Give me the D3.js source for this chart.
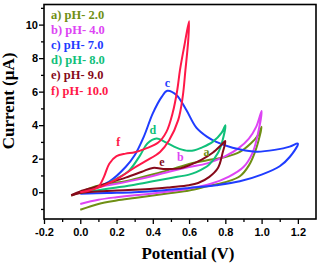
<!DOCTYPE html>
<meta charset="utf-8">
<style>
body { margin: 0; background: #fff; }
.axis path { display: none; }
.axis line { stroke: #000; stroke-width: 1.3; }
.axis text { font: bold 11px "Liberation Sans", Arial, sans-serif; fill: #000; }
.title { font: bold 17px "Liberation Serif", "Times New Roman", serif; fill: #000; }
.legend text { font: bold 12.5px "Liberation Serif", "Times New Roman", serif; }
.tag { font: bold 12px "Liberation Serif", "Times New Roman", serif; }
.cv { fill: none; stroke-width: 2; stroke-linejoin: round; }
</style>
<svg width="320" height="264"></svg>
<script src="https://d3js.org/d3.v7.min.js"></script>
<script>

// cyclic voltammograms, [potential V, current uA], forward scan then return
var curveA = [[-0.05,-0.2],[0.0,0.0],[0.07,0.3],[0.15,0.5],[0.25,0.66],[0.35,0.92],[0.45,1.2],[0.55,1.52],[0.62,1.74],[0.7,1.9],[0.8,2.1],[0.88,2.4],[0.94,2.9],[0.98,3.4],[1.0,3.9],
  [0.97,2.6],[0.93,1.6],[0.88,0.95],[0.8,0.6],[0.7,0.35],[0.6,0.1],[0.5,-0.05],[0.4,-0.2],[0.3,-0.35],[0.2,-0.5],[0.1,-0.7],[0.0,-1.05]];
var curveB = [[0.0,0.0],[0.1,0.3],[0.2,0.5],[0.3,0.72],[0.4,0.97],[0.5,1.25],[0.6,1.5],[0.7,1.72],[0.8,2.15],[0.87,2.6],[0.93,3.2],[0.97,3.9],[1.0,4.85],
  [0.98,3.5],[0.95,2.35],[0.9,1.5],[0.82,0.93],[0.72,0.5],[0.6,0.22],[0.5,0.05],[0.4,-0.08],[0.3,-0.18],[0.2,-0.3],[0.1,-0.45],[0.0,-0.7]];
var curveC = [[0.0,0.0],[0.08,0.25],[0.16,0.63],[0.25,1.5],[0.3,2.2],[0.35,3.3],[0.4,4.7],[0.45,5.7],[0.48,6.05],[0.53,5.8],[0.585,4.9],[0.64,3.85],[0.7,3.3],[0.75,3.0],[0.84,2.65],[0.97,2.42],[1.08,2.54],[1.155,2.72],[1.2,2.9],
  [1.155,2.1],[1.1,1.55],[1.0,1.05],[0.88,0.65],[0.75,0.42],[0.6,0.25],[0.45,0.1],[0.3,0.0],[0.15,-0.05],[0.0,-0.1]];
var curveD = [[0.0,0.0],[0.1,0.3],[0.2,0.8],[0.27,1.3],[0.33,2.2],[0.37,2.9],[0.42,3.2],[0.475,2.96],[0.53,2.66],[0.585,2.48],[0.63,2.5],[0.67,2.66],[0.73,3.0],[0.78,3.55],[0.8,4.0],
  [0.785,3.1],[0.76,2.35],[0.71,1.64],[0.64,1.2],[0.6,1.05],[0.5,0.85],[0.4,0.65],[0.3,0.45],[0.2,0.28],[0.1,0.12],[0.0,-0.05]];
var curveE = [[-0.05,-0.18],[0.0,0.05],[0.08,0.3],[0.16,0.57],[0.25,0.87],[0.34,1.22],[0.4,1.45],[0.47,1.38],[0.55,1.42],[0.6,1.6],[0.67,1.94],[0.73,2.35],[0.78,2.84],[0.8,3.05],
  [0.785,2.35],[0.76,1.46],[0.71,0.9],[0.65,0.55],[0.6,0.42],[0.5,0.3],[0.4,0.2],[0.2,0.1],[0.0,-0.05],[-0.05,-0.2]];
var curveF = [[0.0,0.0],[0.05,0.1],[0.1,0.33],[0.13,0.9],[0.16,1.7],[0.2,2.15],[0.25,2.3],[0.3,2.38],[0.36,2.6],[0.43,2.96],[0.475,3.6],[0.51,4.75],[0.535,6.1],[0.55,7.3],[0.575,8.8],[0.6,10.2],
  [0.595,9.0],[0.58,7.3],[0.565,5.7],[0.54,4.3],[0.49,3.1],[0.44,2.4],[0.36,1.85],[0.29,1.4],[0.22,0.9],[0.15,0.5],[0.08,0.2],[0.0,0.0]];

var curves = [curveA, curveB, curveC, curveD, curveE, curveF];
var tags = ["a", "b", "c", "d", "e", "f"];
var legendNames = ["a) pH- 2.0", "b) pH- 4.0", "c) pH- 7.0", "d) pH- 8.0", "e) pH- 9.0", "f) pH- 10.0"];
var colors = ["#6f8f14", "#dd44f4", "#1f3cff", "#10c07a", "#860a1a", "#ff1848"];
// where the letter tags sit on the plot (V, uA)
var tagAt = [[0.696,2.42],[0.552,2.12],[0.48,6.54],[0.40,3.73],[0.45,1.82],[0.21,3.01]];

var xTicks = [-0.2, 0.0, 0.2, 0.4, 0.6, 0.8, 1.0, 1.2];
var xMinor = [-0.1, 0.1, 0.3, 0.5, 0.7, 0.9, 1.1];
var yTicks = [0, 2, 4, 6, 8, 10];
var yMinor = [-1, 1, 3, 5, 7, 9, 11];

var svg = d3.select("svg"),
    mLeft = 44, mRight = 316, mTop = 4.5, mBottom = 219;

var x = d3.scaleLinear().domain([-0.2, 1.3]).range([mLeft, mRight]),
    y = d3.scaleLinear().domain([-1.6, 11.2]).range([mBottom, mTop]);

var line = d3.line()
    .x(function(d) { return x(d[0]); })
    .y(function(d) { return y(d[1]); })
    .curve(d3.curveCatmullRom.alpha(0.5));

var plot = svg.append("g");

curves.forEach(function(c, i) {
  plot.append("path")
      .attr("class", "cv")
      .attr("d", line(c))
      .attr("stroke", colors[i])
      .attr("stroke-width", i == 4 ? 2.6 : 2.1);
});

tags.forEach(function(t, i) {
  svg.append("text")
      .attr("class", "tag")
      .attr("x", x(tagAt[i][0]))
      .attr("y", y(tagAt[i][1]) + 4)
      .attr("text-anchor", "middle")
      .attr("fill", colors[i])
      .text(t);
});

// axes
var fmt = function(d) { return d3.format(".1f")(d).replace("\u2212", "-"); };

svg.append("g")
    .attr("class", "axis")
    .attr("transform", "translate(0," + mBottom + ")")
    .call(d3.axisBottom(x).tickValues(xTicks).tickFormat(fmt).tickSize(5).tickPadding(4));
svg.append("g")
    .attr("class", "axis")
    .attr("transform", "translate(0," + mBottom + ")")
    .call(d3.axisBottom(x).tickValues(xMinor).tickFormat("").tickSize(3));

svg.append("g")
    .attr("class", "axis")
    .attr("transform", "translate(" + mLeft + ",0)")
    .call(d3.axisLeft(y).tickValues(yTicks).tickFormat(d3.format("d")).tickSize(5).tickPadding(1));
svg.append("g")
    .attr("class", "axis")
    .attr("transform", "translate(" + mLeft + ",0)")
    .call(d3.axisLeft(y).tickValues(yMinor).tickFormat("").tickSize(3));

svg.append("rect")
    .attr("x", mLeft).attr("y", mTop)
    .attr("width", mRight - mLeft).attr("height", mBottom - mTop)
    .attr("fill", "none").attr("stroke", "#000").attr("stroke-width", 1.6);

// legend
var legend = svg.append("g").attr("class", "legend");
legendNames.forEach(function(n, i) {
  legend.append("text")
      .attr("x", 51)
      .attr("y", 18.5 + i * 15.2)
      .attr("fill", colors[i])
      .text(n);
});

svg.append("text")
    .attr("class", "title")
    .attr("x", 188).attr("y", 259)
    .attr("text-anchor", "middle")
    .text("Potential (V)");

svg.append("text")
    .attr("class", "title")
    .attr("transform", "translate(14,101) rotate(-90)")
    .attr("text-anchor", "middle")
    .text("Current (\u03bcA)");

</script>
